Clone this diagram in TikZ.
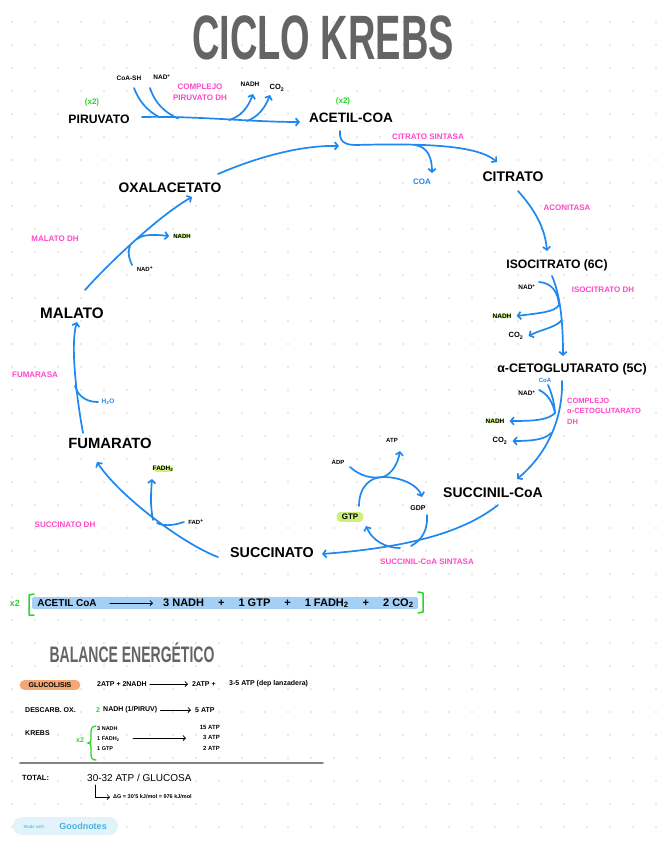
\documentclass[tikz,border=0pt]{standalone}
\usepackage{fontspec}
\setmainfont{Liberation Sans}
\usetikzlibrary{arrows.meta}
\definecolor{kblue}{RGB}{30,136,240}
\definecolor{kpink}{RGB}{255,72,200}
\definecolor{kgreen}{RGB}{40,215,40}
\definecolor{khl}{RGB}{205,240,125}
\definecolor{kband}{RGB}{165,208,245}
\definecolor{korange}{RGB}{245,168,118}
\definecolor{ktitle}{RGB}{100,100,100}
\definecolor{kdot}{RGB}{212,212,212}
\definecolor{kbadge}{RGB}{226,243,251}
\definecolor{kbadgetxt}{RGB}{70,180,222}
\newcommand\kfs[1]{\fontsize{#1}{#1}\selectfont}
\begin{document}
\begin{tikzpicture}[x=1pt,y=-1pt,
  met/.style={inner sep=0pt,text=black},
  enz/.style={inner sep=0pt,text=kpink,font=\bfseries\fontsize{8}{10.5}\selectfont},
  sml/.style={inner sep=0pt,font=\bfseries\kfs{6.5}},
  hl/.style={fill=khl,rounded corners=3.5pt,inner xsep=4pt,inner ysep=2pt},
  grn/.style={inner sep=0pt,text=kgreen,font=\bfseries\kfs{8}},
  lin/.style={draw=kblue,line width=1.7pt,line cap=round},
  arr/.style={lin,-{Straight Barb[length=3.2pt,width=7.5pt]}},
  blk/.style={draw=black,line width=0.8pt,line cap=round,-{Straight Barb[length=2.5pt,width=5pt]}},
  sumtxt/.style={inner sep=0pt,font=\bfseries\kfs{7}},
]
\fill[white] (0,0) rectangle (656,848);
\useasboundingbox (0,0) rectangle (656,848);
\foreach \i in {0,...,28} \foreach \j in {0,...,36} \fill[kdot] (23*\i+12,23*\j+22) circle (0.9pt);

% ---------- title
\node[met,font=\bfseries\kfs{38},text=ktitle,yscale=1.65] (title) at (323,38) {CICLO KREBS};

% ---------- pyruvate -> acetyl-CoA
\node[grn] (x2a) at (92,102) {(x2)};
\node[met,font=\bfseries\kfs{12.2}] (piru) at (99,119) {PIRUVATO};
\node[grn] (x2b) at (343,101) {(x2)};
\node[met,font=\bfseries\kfs{13.6}] (acet) at (351,118) {ACETIL-COA};
\node[sml] (coash) at (129,78) {CoA-SH};
\node[sml] (nadp1) at (162,77) {NAD\textsuperscript{+}};
\node[enz,align=center] (cpdh) at (200,92) {COMPLEJO\\PIRUVATO DH};
\node[sml] (nadh1) at (250,84) {NADH};
\node[sml,font=\bfseries\kfs{7.5}] (co2a) at (277,88) {CO\textsubscript{2}};
\coordinate (pdhS) at (142,117);
\coordinate (pdhE) at (300,122);
\coordinate (pdh1) at (160,117.5);
\coordinate (pdh2) at (178,118.5);
\coordinate (pdh3) at (229,120);
\coordinate (pdh4) at (247,121);
\coordinate (coashE) at (134,88);
\coordinate (nadp1E) at (150,88);
\coordinate (nadh1E) at (253,94);
\coordinate (co2aE) at (270,95);
\draw[arr] (pdhS) .. controls (200,116) and (250,122) .. (pdhE);
\draw[lin] (coashE) .. controls (139,101) and (147,111) .. (pdh1);
\draw[lin] (nadp1E) .. controls (155,103) and (164,112) .. (pdh2);
\draw[arr] (pdh3) .. controls (240,117) and (248,108) .. (nadh1E);
\draw[arr] (pdh4) .. controls (258,117) and (265,108) .. (co2aE);

% ---------- acetyl-CoA -> citrate
\node[enz] (citsint) at (428,137) {CITRATO SINTASA};
\node[met,font=\bfseries\kfs{14}] (cit) at (513,177) {CITRATO};
\node[inner sep=0pt,text=kblue,font=\bfseries\kfs{8}] (coa1) at (422,182) {COA};
\coordinate (hook) at (340,131);
\coordinate (cs1) at (415,145);
\coordinate (citE) at (497,162);
\coordinate (coa1E) at (432,173);
\draw[arr] (hook) .. controls (339,141) and (344,145) .. (356,145) .. controls (430,143) and (478,146) .. (citE);
\draw[arr] (cs1) .. controls (428,147) and (432,158) .. (coa1E);

% ---------- oxaloacetate -> acetyl-CoA
\node[met,font=\bfseries\kfs{13.8}] (oxa) at (170,188) {OXALACETATO};
\coordinate (oxaS) at (218,174);
\coordinate (acetE) at (339,146);
\draw[arr] (oxaS) .. controls (255,158) and (300,145) .. (acetE);

% ---------- citrate -> isocitrate
\node[enz] (acon) at (567,208) {ACONITASA};
\node[met,font=\bfseries\kfs{12.2}] (isoc) at (557,265) {ISOCITRATO (6C)};
\coordinate (citS) at (518,191);
\coordinate (isocE) at (547,251);
\draw[arr] (citS) .. controls (535,210) and (545,228) .. (isocE);

% ---------- isocitrate -> alpha-KG
\node[sml] (nadp2) at (527,287) {NAD\textsuperscript{+}};
\node[enz] (isodh) at (603,290) {ISOCITRATO DH};
\node[hl,sml] (nadh2) at (502,316) {NADH};
\node[sml,font=\bfseries\kfs{7.5}] (co2b) at (516,336) {CO\textsubscript{2}};
\node[met,font=\bfseries\kfs{12.4}] (akg) at (572,369) {α-CETOGLUTARATO (5C)};
\coordinate (isocS) at (552,276);
\coordinate (akgE) at (563,356);
\coordinate (nadp2S) at (539,282);
\coordinate (ic1) at (559,305);
\coordinate (ic2) at (562,320);
\draw[arr] (isocS) .. controls (560,295) and (563,320) .. (akgE);
\draw[lin] (nadp2S) .. controls (552,283) and (558,292) .. (ic1);
\draw[arr] (ic1) .. controls (555,312) and (540,313) .. ([xshift=5pt]nadh2.east);
\draw[arr] (ic2) .. controls (555,328) and (542,329) .. ([xshift=5pt]co2b.east);

% ---------- alpha-KG -> succinyl-CoA
\node[sml] (nadp3) at (527,393) {NAD\textsuperscript{+}};
\node[inner sep=0pt,text=kblue,font=\bfseries\kfs{6}] (coa2) at (545,380) {CoA};
\node[enz,align=left,anchor=west,font=\bfseries\fontsize{7.5}{10.5}\selectfont] (akgdh) at (567,411) {COMPLEJO\\α-CETOGLUTARATO\\DH};
\node[hl,sml] (nadh3) at (495,421) {NADH};
\node[sml,font=\bfseries\kfs{7.5}] (co2c) at (500,441) {CO\textsubscript{2}};
\node[met,font=\bfseries\kfs{14}] (suc) at (493,493) {SUCCINIL-CoA};
\coordinate (akgS) at (562,381);
\coordinate (sucE) at (517,479);
\coordinate (nadp3S) at (539,390);
\coordinate (coa2S) at (548,385);
\coordinate (ak1) at (555,413);
\coordinate (ak2) at (551,433);
\draw[arr] (akgS) .. controls (563,420) and (546,455) .. (sucE);
\draw[lin] (nadp3S) .. controls (548,394) and (553,403) .. (ak1);
\draw[lin] (coa2S) .. controls (551,392) and (554,400) .. (ak1);
\draw[arr] (ak1) .. controls (548,420) and (535,421) .. ([xshift=5pt]nadh3.east);
\draw[arr] (ak2) .. controls (545,440) and (530,441) .. ([xshift=5pt]co2c.east);

% ---------- succinyl-CoA -> succinate
\node[met,font=\bfseries\kfs{14.3}] (scto) at (272,553) {SUCCINATO};
\node[enz] (scs) at (427,562) {SUCCINIL-CoA SINTASA};
\node[hl,font=\bfseries\kfs{8},inner xsep=5pt] (gtp) at (350,517) {GTP};
\node[sml,font=\bfseries\kfs{7}] (gdp) at (418,508) {GDP};
\node[sml,font=\bfseries\kfs{6}] (adp) at (338,462) {ADP};
\node[sml,font=\bfseries\kfs{6}] (atp) at (392,440) {ATP};
\coordinate (sucS) at (498,505);
\coordinate (sctoE) at (322,554);
\coordinate (gdpS) at (427,515);
\coordinate (gtpE) at (366,526);
\coordinate (gtpS) at (359,506);
\coordinate (gdpE) at (422,497);
\coordinate (adpS) at (350,467);
\coordinate (atpE) at (400,451);
\coordinate (sc1) at (411,546);
\coordinate (sc2) at (400,548);
\coordinate (cyc) at (383,477);
\draw[arr] (sucS) .. controls (460,535) and (400,548) .. (sctoE);
\draw[lin] (gdpS) .. controls (428,530) and (422,540) .. (sc1);
\draw[arr] (sc2) .. controls (385,548) and (372,540) .. (gtpE);
\draw[arr] (gtpS) .. controls (359,486) and (371,477) .. (cyc) .. controls (401,477) and (418,485) .. (gdpE);
\draw[arr] (adpS) .. controls (360,476) and (372,479) .. (cyc) .. controls (392,474) and (398,463) .. (atpE);

% ---------- succinate -> fumarate
\node[met,font=\bfseries\kfs{14.8}] (fum) at (110,443) {FUMARATO};
\node[hl,sml] (fadh) at (163,469) {FADH\textsubscript{2}};
\node[sml,font=\bfseries\kfs{6}] (fad) at (196,522) {FAD\textsuperscript{+}};
\node[enz] (sdh) at (65,525) {SUCCINATO DH};
\coordinate (sctoS) at (218,557);
\coordinate (fumE) at (97,462);
\coordinate (sd1) at (153,520);
\coordinate (sd2) at (157,523);
\coordinate (fadhE) at (152,479);
\coordinate (fadS) at (184,522);
\draw[arr] (sctoS) .. controls (185,545) and (120,497) .. (fumE);
\draw[arr] (sd1) .. controls (150,505) and (151,492) .. (fadhE);
\draw[lin] (fadS) .. controls (172,526) and (163,526) .. (sd2);

% ---------- fumarate -> malate
\node[met,font=\bfseries\kfs{15.2}] (mal) at (72,313) {MALATO};
\node[inner sep=0pt,text=kblue,font=\bfseries\kfs{6.5}] (h2o) at (108,402) {H\textsubscript{2}O};
\node[enz] (fumasa) at (35,375) {FUMARASA};
\coordinate (fumS) at (83,433);
\coordinate (malE) at (77,322);
\coordinate (h2oS) at (98,402);
\coordinate (fm1) at (75,386);
\draw[arr] (fumS) .. controls (77,400) and (70,345) .. (malE);
\draw[lin] (h2oS) .. controls (86,402) and (78,396) .. (fm1);

% ---------- malate -> oxaloacetate
\node[hl,sml,font=\bfseries\kfs{6}] (nadh4) at (182,236) {NADH};
\node[sml,font=\bfseries\kfs{6}] (nadp4) at (145,269) {NAD\textsuperscript{+}};
\node[enz] (mdh) at (55,239) {MALATO DH};
\coordinate (malS) at (85,290);
\coordinate (oxaE) at (192,197);
\coordinate (md1) at (137,239);
\coordinate (md2) at (130,246);
\coordinate (nadp4S) at (132,265);
\draw[arr] (malS) .. controls (110,262) and (160,215) .. (oxaE);
\draw[arr] (md1) .. controls (142,235) and (150,234) .. ([xshift=-4pt]nadh4.west);
\draw[lin] (nadp4S) .. controls (128,256) and (128,251) .. (md2);

% ---------- summary line
\node[fill=kband,minimum width=386pt,minimum height=12pt,inner sep=0pt,rounded corners=2pt] (band) at (225,603) {};
\node[grn,font=\bfseries\kfs{9}] (x2c) at (15,603) {x2};
\draw[kgreen,line width=1.5pt,line cap=round,line join=round] (34,594) -- (29,595) -- (29,615) -- (34,615);
\draw[kgreen,line width=1.5pt,line cap=round,line join=round] (418,592) -- (423,593) -- (423,612) -- (418,613);
\node[met,font=\bfseries\kfs{10}] (sumL) at (67,603) {ACETIL CoA};
\node[met,anchor=west,font=\bfseries\kfs{11}] (sumR) at (163,603) {3 NADH\hspace{14pt}+\hspace{14pt}1 GTP\hspace{14pt}+\hspace{14pt}1 FADH\textsubscript{2}\hspace{14pt}+\hspace{14pt}2 CO\textsubscript{2}};
\draw[blk] ([xshift=13pt]sumL.east) -- ([xshift=-10pt]sumR.west);

% ---------- balance
\node[met,font=\bfseries\kfs{14},text=ktitle,yscale=1.6] (bal) at (132,653) {BALANCE ENERGÉTICO};
\node[fill=korange,rounded corners=5pt,inner xsep=9pt,inner ysep=2.5pt,font=\bfseries\kfs{7}] (gluc) at (50,685) {GLUCOLISIS};
\node[sumtxt,anchor=west] (g1) at (97,684) {2ATP + 2NADH};
\node[sumtxt,anchor=west] (g2) at (192,684) {2ATP +};
\node[sumtxt,anchor=west] (g3) at (229,684) {3-5 ATP (dep lanzadera)};
\draw[blk] ([xshift=3pt]g1.east) -- ([xshift=-4pt]g2.west);
\node[sumtxt,anchor=west] (dox) at (25,710) {DESCARB. OX.};
\node[grn,anchor=west,font=\bfseries\kfs{7}] (d2) at (96,710) {2};
\node[sumtxt,anchor=west] (d3) at (103,710) {NADH (1/PIRUV)};
\node[sumtxt,anchor=west] (d4) at (195,710) {5 ATP};
\draw[blk] ([xshift=3pt]d3.east) -- ([xshift=-4pt]d4.west);

\node[sumtxt,anchor=west] (kr) at (25,733) {KREBS};
\node[grn,font=\bfseries\kfs{7}] (x2d) at (80,740) {x2};
\draw[kgreen,line width=1.3pt,line cap=round] (96,726) .. controls (91,726) and (91,730) .. (91,734) -- (91,739) .. controls (91,742) and (90,743) .. (88,743) .. controls (90,743) and (91,744) .. (91,747) -- (91,754) .. controls (91,758) and (92,760) .. (96,760);
\node[sumtxt,anchor=west,font=\bfseries\kfs{5.5}] (k1) at (97,729) {3 NADH};
\node[sumtxt,anchor=west,font=\bfseries\kfs{5.5}] (k2) at (97,739) {1 FADH\textsubscript{2}};
\node[sumtxt,anchor=west,font=\bfseries\kfs{5.5}] (k3) at (97,749) {1 GTP};
\node[sumtxt,anchor=east,font=\bfseries\kfs{6}] (k4) at (220,727) {15 ATP};
\node[sumtxt,anchor=east,font=\bfseries\kfs{6}] (k5) at (220,737) {3 ATP};
\node[sumtxt,anchor=east,font=\bfseries\kfs{6}] (k6) at (220,748) {2 ATP};
\coordinate (krS) at (133,738);
\coordinate (krE) at (186,738);
\draw[blk] (krS) -- (krE);
\draw[ktitle!80,line width=1.6pt,line cap=round] (20,763) -- (323,763);
\node[sumtxt,anchor=west,font=\bfseries\kfs{7.5}] (tot) at (22,778) {TOTAL:};
\node[met,anchor=west,font=\kfs{10}] (tot2) at (87,778) {30-32 ATP / GLUCOSA};
\node[sumtxt,anchor=west,font=\bfseries\kfs{5.5}] (dg) at (113,797) {ΔG = 30'5 kJ/mol = 976 kJ/mol};
\coordinate (totc) at (95,785);
\draw[blk,line width=0.7pt] (totc) |- ([xshift=-3pt]dg.west);

% ---------- badge
\node[fill=kbadge,rounded corners=9pt,minimum width=105pt,minimum height=18pt,inner sep=0pt] (badge) at (65.5,826) {};
\node[inner sep=0pt,text=kbadgetxt,font=\kfs{4.5}] (bmade) at (34,826.5) {Made with};
\node[inner sep=0pt,text=kbadgetxt,font=\bfseries\kfs{9}] (bgood) at (83,826) {Goodnotes};
\end{tikzpicture}
\end{document}
